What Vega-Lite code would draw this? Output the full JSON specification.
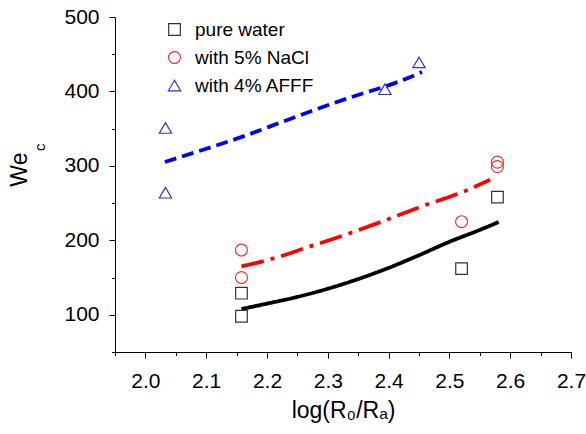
{
  "$schema": "https://vega.github.io/schema/vega-lite/v6.json",
  "width": 456,
  "height": 335,
  "autosize": {"type": "none"},
  "padding": {"left": 115, "top": 17, "right": 15, "bottom": 82},
  "background": "white",
  "config": {
    "view": {"stroke": null},
    "font": "Liberation Sans",
    "axis": {
      "grid": false,
      "domainColor": "#000000",
      "domainWidth": 1,
      "tickColor": "#000000",
      "tickWidth": 1,
      "labelColor": "#000000",
      "titleColor": "#000000",
      "labelFont": "Liberation Sans",
      "titleFont": "Liberation Sans",
      "titleFontWeight": "normal",
      "labelOverlap": false,
      "labelBound": false,
      "labelFlush": false
    }
  },
  "datasets": {
    "points": [
      {"series": "pure water", "x": 2.158, "y": 129},
      {"series": "pure water", "x": 2.158, "y": 98},
      {"series": "pure water", "x": 2.52, "y": 162},
      {"series": "pure water", "x": 2.579, "y": 258},
      {"series": "with 5% NaCl", "x": 2.158, "y": 187},
      {"series": "with 5% NaCl", "x": 2.158, "y": 150},
      {"series": "with 5% NaCl", "x": 2.52, "y": 225},
      {"series": "with 5% NaCl", "x": 2.579, "y": 305},
      {"series": "with 5% NaCl", "x": 2.579, "y": 299},
      {"series": "with 4% AFFF", "x": 2.033, "y": 351},
      {"series": "with 4% AFFF", "x": 2.033, "y": 264},
      {"series": "with 4% AFFF", "x": 2.394, "y": 403},
      {"series": "with 4% AFFF", "x": 2.45, "y": 439}
    ],
    "curves": [
      {"model": "pure", "x": 2.158, "y": 107.7},
      {"model": "pure", "x": 2.2, "y": 115},
      {"model": "pure", "x": 2.25, "y": 124},
      {"model": "pure", "x": 2.3, "y": 135},
      {"model": "pure", "x": 2.35, "y": 148},
      {"model": "pure", "x": 2.4, "y": 163},
      {"model": "pure", "x": 2.45, "y": 180},
      {"model": "pure", "x": 2.5, "y": 198},
      {"model": "pure", "x": 2.55, "y": 214},
      {"model": "pure", "x": 2.581, "y": 224.5},
      {"model": "nacl", "x": 2.158, "y": 164.9},
      {"model": "nacl", "x": 2.207, "y": 174.9},
      {"model": "nacl", "x": 2.268, "y": 191},
      {"model": "nacl", "x": 2.334, "y": 208.9},
      {"model": "nacl", "x": 2.394, "y": 226.7},
      {"model": "nacl", "x": 2.454, "y": 245.5},
      {"model": "nacl", "x": 2.52, "y": 264.3},
      {"model": "nacl", "x": 2.567, "y": 281.5},
      {"model": "afff", "x": 2.032, "y": 305.2},
      {"model": "afff", "x": 2.095, "y": 321.7},
      {"model": "afff", "x": 2.161, "y": 339.6},
      {"model": "afff", "x": 2.227, "y": 359.7},
      {"model": "afff", "x": 2.287, "y": 377.7},
      {"model": "afff", "x": 2.342, "y": 393.3},
      {"model": "afff", "x": 2.408, "y": 410.5},
      {"model": "afff", "x": 2.455, "y": 426}
    ]
  },
  "resolve": {"axis": {"x": "independent", "y": "independent"}},
  "layer": [
    {
      "data": {"name": "curves"},
      "mark": {"type": "line", "strokeWidth": 3.8, "interpolate": "monotone", "strokeCap": "butt"},
      "encoding": {
        "x": {
          "field": "x", "type": "quantitative",
          "scale": {"domain": [1.95, 2.7], "nice": false, "zero": false},
          "axis": {
            "values": [1.95, 2.0, 2.05, 2.1, 2.15, 2.2, 2.25, 2.3, 2.35, 2.4, 2.45, 2.5, 2.55, 2.6, 2.65, 2.7],
            "labelExpr": "abs(datum.value*10 - round(datum.value*10)) < 0.01 ? format(datum.value, '.1f') : ''",
            "tickSize": {"condition": {"test": "abs(datum.value*10 - round(datum.value*10)) < 0.01", "value": 6}, "value": 3.5},
            "labelFontSize": 21,
            "labelPadding": 12,
            "title": "log(R₀/Rₐ)",
            "titleFontSize": 23,
            "titlePadding": 8
          }
        },
        "y": {
          "field": "y", "type": "quantitative",
          "scale": {"domain": [50, 500], "nice": false, "zero": false},
          "axis": {
            "values": [50, 100, 150, 200, 250, 300, 350, 400, 450, 500],
            "labelExpr": "datum.value % 100 === 0 ? format(datum.value, 'd') : ''",
            "tickSize": {"condition": {"test": "datum.value % 100 === 0", "value": 6}, "value": 3.5},
            "labelFontSize": 21,
            "labelPadding": 10,
            "title": null
          }
        },
        "color": {
          "field": "model", "type": "nominal",
          "scale": {"domain": ["pure", "nacl", "afff"], "range": ["#000000", "#ff0000", "#0000ee"]},
          "legend": null
        },
        "strokeDash": {
          "field": "model", "type": "nominal",
          "scale": {"domain": ["pure", "nacl", "afff"], "range": [[1, 0], [23, 7, 4, 7], [12, 6]]},
          "legend": null
        }
      }
    },
    {
      "data": {"name": "points"},
      "mark": {"type": "point", "filled": false, "strokeWidth": 1.2, "opacity": 1},
      "encoding": {
        "x": {"field": "x", "type": "quantitative", "axis": null},
        "y": {"field": "y", "type": "quantitative", "axis": null},
        "shape": {
          "field": "series", "type": "nominal",
          "scale": {"domain": ["pure water", "with 5% NaCl", "with 4% AFFF"], "range": ["square", "circle", "triangle-up"]},
          "legend": {
            "orient": "none", "legendX": 50, "legendY": 3, "title": null,
            "labelFontSize": 19, "labelFont": "Liberation Sans", "labelColor": "#000000",
            "symbolStrokeWidth": 1.2, "rowPadding": 8, "labelOffset": 11, "padding": 0,
            "symbolFillColor": "transparent"
          }
        },
        "stroke": {
          "field": "series", "type": "nominal",
          "scale": {"domain": ["pure water", "with 5% NaCl", "with 4% AFFF"], "range": ["#333333", "#ee3333", "#3333cc"]}
        },
        "size": {
          "field": "series", "type": "nominal",
          "scale": {"domain": ["pure water", "with 5% NaCl", "with 4% AFFF"], "range": [135, 150, 225]}
        }
      }
    },
    {
      "data": {"values": [{}]},
      "mark": {"type": "text", "text": "We", "angle": 270, "fontSize": 23, "font": "Liberation Sans", "align": "center", "baseline": "middle", "color": "#000000"},
      "encoding": {
        "x": {"datum": 1.794, "type": "quantitative", "axis": null},
        "y": {"datum": 295, "type": "quantitative", "axis": null}
      }
    },
    {
      "data": {"values": [{}]},
      "mark": {"type": "text", "text": "c", "angle": 270, "fontSize": 15, "font": "Liberation Sans", "align": "center", "baseline": "middle", "color": "#000000"},
      "encoding": {
        "x": {"datum": 1.827, "type": "quantitative", "axis": null},
        "y": {"datum": 325, "type": "quantitative", "axis": null}
      }
    }
  ]
}
